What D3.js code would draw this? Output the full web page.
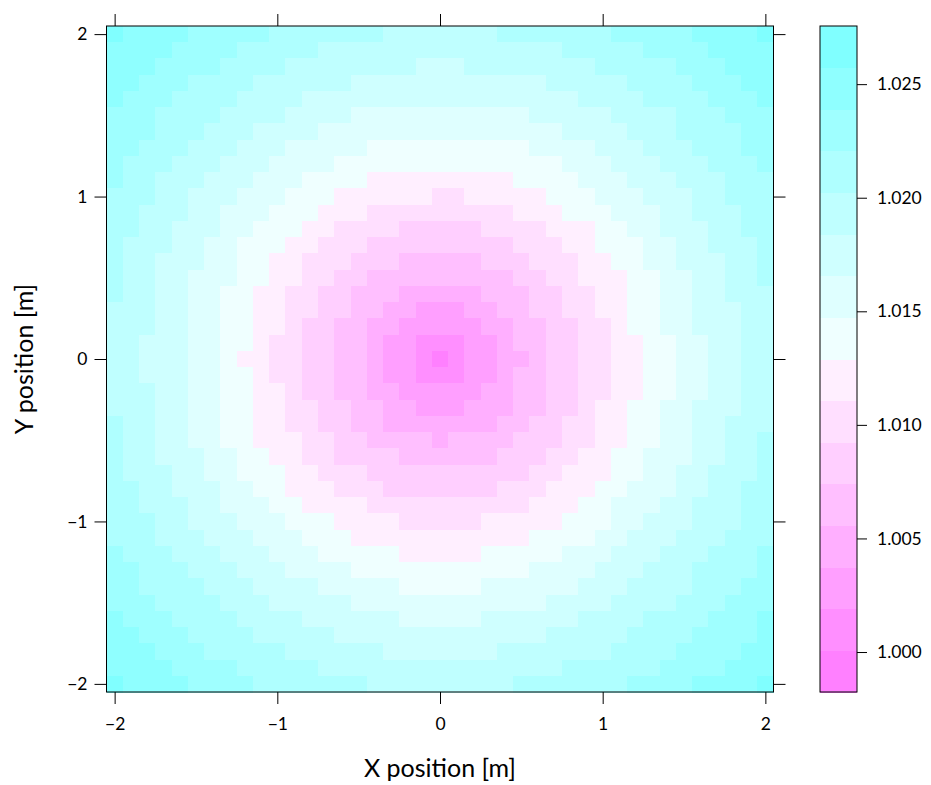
<!DOCTYPE html>
<html>
<head>
<meta charset="utf-8">
<script src="https://cdn.jsdelivr.net/npm/d3@7"></script>
<style>
  body { margin: 0; background: #fff; }
  text { font-family: Lato, "DejaVu Sans", sans-serif; fill: #000; }
</style>
</head>
<body>
<div id="chart"></div>
<script>
// grid positions (m): columns left to right, rows top to bottom
const xPos = [-2.0, -1.9, -1.8, -1.7, -1.6, -1.5, -1.4, -1.3, -1.2, -1.1, -1.0, -0.9, -0.8, -0.7, -0.6, -0.5, -0.4, -0.3, -0.2, -0.1,
  0.0, 0.1, 0.2, 0.3, 0.4, 0.5, 0.6, 0.7, 0.8, 0.9, 1.0, 1.1, 1.2, 1.3, 1.4, 1.5, 1.6, 1.7, 1.8, 1.9, 2.0];
const yPos = [2.0, 1.9, 1.8, 1.7, 1.6, 1.5, 1.4, 1.3, 1.2, 1.1, 1.0, 0.9, 0.8, 0.7, 0.6, 0.5, 0.4, 0.3, 0.2, 0.1,
  0.0, -0.1, -0.2, -0.3, -0.4, -0.5, -0.6, -0.7, -0.8, -0.9, -1.0, -1.1, -1.2, -1.3, -1.4, -1.5, -1.6, -1.7, -1.8, -1.9, -2.0];

// colour band of every cell (0 = lowest ... f = highest), top row first,
// written as left half / centre column / right half
const levelRows = [
  "feeeedddddcccccccbbb b bbbcccccccdddddeeeef",
  "eeeeddddcccccbbbbbbb b bbbbbbbcccccddddeeee",
  "eeeddddccccbbbbbbbba a abbbbbbbbcccccdddeee",
  "eedddccccbbbbbbaaaaa a aaaaaabbbbbccccdddee",
  "edddccccbbbbaaaaaaaa a aaaaaaaabbbbccccddde",
  "dddccccbbbbaaaa99999 9 99999aaaaabbbbcccddd",
  "dddcccbbbaaaa9999999 9 9999999aaaabbbccccdd",
  "ddcccbbbaaa999998888 8 888889999aaabbbcccdd",
  "dcccbbbaaa9999888888 8 8888888999aaabbbcccd",
  "dccbbbaaa99988887777 7 77778888999aaabbbccc",
  "cccbbaaa999888777777 6 677777888999aaabbccc",
  "ccbbbaa9998887776666 6 6666777888999aabbbcc",
  "ccbbaaa9988877666655 5 5566667778899aaabbcc",
  "cbbbaa99888776665555 5 55556667788899aabbbc",
  "cbbaaa99887766655544 4 44555666778899aaabbc",
  "cbbaa999887766554444 4 444455667778899aabbc",
  "cbbaa998877665544433 3 334445566778899aabbb",
  "bbbaa998877665544332 2 233445566778899aaabb",
  "bbbaa998877655443322 2 223344556678899aaabb",
  "bbaaa998876655443221 1 1223445566778899aabb",
  "bbaaa998776655443221 0 1223345566778899aabb",
  "bbaaa998876655443221 1 1223445566778899aabb",
  "bbbaa998877655443322 2 2233445566778899aabb",
  "bbbaa998877665544332 2 233344556778899aaabb",
  "cbbaa998877665544333 3 333445566778899aabbb",
  "cbbaa998877766554444 3 444455566778899aabbc",
  "cbbaaa99887766555544 4 444555667788999aabbc",
  "cbbbaa99888776665555 5 55555667778899aabbbc",
  "ccbbaaa9988777666555 5 55566677788999aabbcc",
  "ccbbbaa9998877776666 6 6666677788999aabbbcc",
  "cccbbaaa999888777766 6 667777788899aaabbbcc",
  "cccbbbaaa99988877777 7 77777888899aaabbbccc",
  "dcccbbbaaa9998888877 7 7788888999aaabbbcccd",
  "ddcccbbbaaa999988888 8 888889999aaabbbccccd",
  "ddccccbbbaaaa9999988 8 88999999aaabbbbcccdd",
  "dddccccbbbaaaaa99999 9 999999aaaabbbbcccddd",
  "edddccccbbbbaaaaaa99 9 99aaaaaabbbbccccddde",
  "eedddccccbbbbbaaaaaa a aaaaaabbbbbccccdddde",
  "eeedddcccccbbbbbbaaa a aaabbbbbbbccccddddee",
  "eeeeddddcccccbbbbbbb b bbbbbbbccccccddddeee",
  "feeeeddddcccccccbbbb b bbbbcccccccddddeeeef"
];

// colour key: 17 breaks, 16 colours (cm.colors reversed)
const breaks = [0.99824, 1.00007, 1.00191, 1.00374, 1.00557, 1.00740, 1.00924, 1.01107, 1.01290,
  1.01473, 1.01657, 1.01840, 1.02023, 1.02206, 1.02390, 1.02573, 1.02756];
const palette = ["#FF80FF", "#FF8FFF", "#FF9FFF", "#FFAFFF", "#FFBFFF", "#FFCFFF", "#FFDFFF", "#FFEFFF",
  "#EFFFFF", "#DFFFFF", "#CFFFFF", "#BFFFFF", "#AFFFFF", "#9FFFFF", "#8FFFFF", "#80FFFF"];

const xTicks = [-2, -1, 0, 1, 2];
const yTicks = [-2, -1, 0, 1, 2];
const zTicks = [1.000, 1.005, 1.010, 1.015, 1.020, 1.025];

// Page size and plot box
const W = 931, H = 785;
const plot = { left: 106.5, right: 773.5, top: 26, bottom: 692 };
const key = { left: 820, right: 857 };
const half = 0.05; // half a grid step
const tickFont = 17.5, titleFont = 25;

const svg = d3.select("#chart").append("svg")
  .attr("width", W)
  .attr("height", H);

const x = d3.scaleLinear().domain([-2.05, 2.05]).range([plot.left, plot.right]);
const y = d3.scaleLinear().domain([-2.05, 2.05]).range([plot.bottom, plot.top]);
const z = d3.scaleLinear().domain([breaks[0], breaks[breaks.length - 1]]).range([plot.bottom, plot.top]);
const color = d3.scaleThreshold().domain(breaks.slice(1, -1)).range(palette);

// Turn band codes into cell values (middle of the band)
const cells = [];
levelRows.forEach((row, r) => {
  row.replace(/ /g, "").split("").forEach((ch, c) => {
    const k = parseInt(ch, 16);
    cells.push({ x: xPos[c], y: yPos[r], value: (breaks[k] + breaks[k + 1]) / 2 });
  });
});

// Level plot cells
svg.append("g")
  .attr("shape-rendering", "crispEdges")
  .selectAll("rect")
  .data(cells)
  .join("rect")
  .attr("x", d => x(d.x - half))
  .attr("y", d => y(d.y + half))
  .attr("width", d => x(d.x + half) - x(d.x - half) + 0.5)
  .attr("height", d => y(d.y - half) - y(d.y + half) + 0.5)
  .attr("fill", d => color(d.value));

svg.append("rect")
  .attr("x", plot.left).attr("y", plot.top)
  .attr("width", plot.right - plot.left).attr("height", plot.bottom - plot.top)
  .attr("fill", "none").attr("stroke", "#000").attr("stroke-width", 1);

// Axes: labels left and bottom, bare ticks top and right
function styleAxis(g) {
  g.select(".domain").remove();
  g.selectAll(".tick line").attr("stroke", "#000");
  g.selectAll(".tick text").attr("font-size", tickFont).attr("fill", "#000");
}

const intFormat = d3.format("d");

svg.append("g")
  .attr("transform", `translate(0,${plot.bottom})`)
  .call(d3.axisBottom(x).tickValues(xTicks).tickFormat(intFormat).tickSize(12).tickPadding(14).tickSizeOuter(0))
  .call(styleAxis);

svg.append("g")
  .attr("transform", `translate(0,${plot.top})`)
  .call(d3.axisTop(x).tickValues(xTicks).tickSize(12).tickFormat("").tickSizeOuter(0))
  .call(styleAxis);

svg.append("g")
  .attr("transform", `translate(${plot.left},0)`)
  .call(d3.axisLeft(y).tickValues(yTicks).tickFormat(intFormat).tickSize(12).tickPadding(7).tickSizeOuter(0))
  .call(styleAxis);

svg.append("g")
  .attr("transform", `translate(${plot.right},0)`)
  .call(d3.axisRight(y).tickValues(yTicks).tickSize(12).tickFormat("").tickSizeOuter(0))
  .call(styleAxis);

// Axis titles
svg.append("text")
  .attr("x", x(0))
  .attr("y", 777)
  .attr("text-anchor", "middle")
  .attr("font-size", titleFont)
  .text("X position [m]");

svg.append("text")
  .attr("transform", `translate(33,${y(0)}) rotate(-90)`)
  .attr("text-anchor", "middle")
  .attr("font-size", titleFont)
  .text("Y position [m]");

// Colour key
svg.append("g")
  .attr("shape-rendering", "crispEdges")
  .selectAll("rect")
  .data(palette)
  .join("rect")
  .attr("x", key.left)
  .attr("y", (d, i) => z(breaks[i + 1]))
  .attr("width", key.right - key.left)
  .attr("height", (d, i) => z(breaks[i]) - z(breaks[i + 1]) + 0.5)
  .attr("fill", d => d);

svg.append("rect")
  .attr("x", key.left).attr("y", plot.top)
  .attr("width", key.right - key.left).attr("height", plot.bottom - plot.top)
  .attr("fill", "none").attr("stroke", "#000").attr("stroke-width", 1);

svg.append("g")
  .attr("transform", `translate(${key.right},0)`)
  .call(d3.axisRight(z).tickValues(zTicks).tickFormat(d3.format(".3f")).tickSize(10).tickPadding(10).tickSizeOuter(0))
  .call(styleAxis);
</script>
</body>
</html>
